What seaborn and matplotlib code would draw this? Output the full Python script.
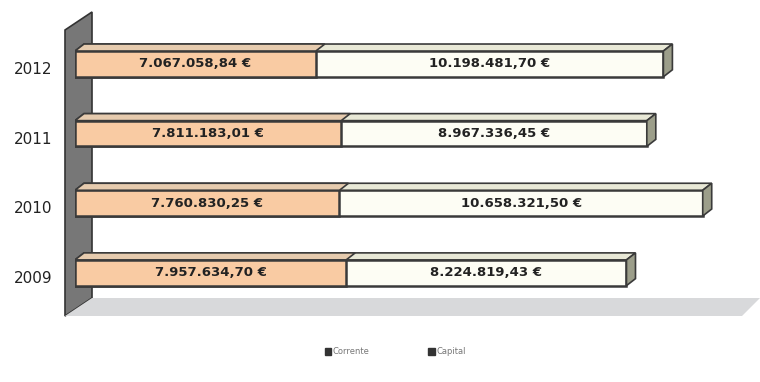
import pandas as pd
import numpy as np
import matplotlib.pyplot as plt
import seaborn as sns
from matplotlib.patches import Polygon, Patch
from matplotlib.transforms import IdentityTransform, ScaledTranslation

# data (euros)
years = ['2012', '2011', '2010', '2009']
corrente = [7067058.84, 7811183.01, 7760830.25, 7957634.70]
capital = [10198481.70, 8967336.45, 10658321.50, 8224819.43]
labels_corrente = ['7.067.058,84 €', '7.811.183,01 €', '7.760.830,25 €', '7.957.634,70 €']
labels_capital = ['10.198.481,70 €', '8.967.336,45 €', '10.658.321,50 €', '8.224.819,43 €']

df = pd.DataFrame({'Ano': years, 'Corrente': corrente, 'Capital': capital})
df['Total'] = df['Corrente'] + df['Capital']

sns.set_style('white')
fig = plt.figure(figsize=(7.6, 3.82), dpi=100)
H = 382
W = 760

# wall and floor (background)
wall = Polygon([[65 / W, 1 - 316 / H], [92 / W, 1 - 298 / H], [92 / W, 1 - 12 / H],
                [65 / W, 1 - 30 / H]], closed=True, transform=fig.transFigure,
               facecolor='#777777', edgecolor='#333333', linewidth=1.2, zorder=-2)
fig.patches.append(wall)
floor = Polygon([[65 / W, 1 - 316 / H], [742 / W, 1 - 316 / H], [760 / W, 1 - 298 / H],
                 [92 / W, 1 - 298 / H]], closed=True, transform=fig.transFigure,
                facecolor='#D8D9DB', edgecolor='none', zorder=-2)
fig.patches.append(floor)

ax = fig.add_axes([75 / W, 1 - 302 / H, 685 / W, 275 / H])
ax.patch.set_visible(False)

c_orange = '#F9CBA3'
c_white = '#FDFDF4'
edge = '#3A3A3A'

sns.barplot(data=df, y='Ano', x='Total', order=years, color=c_white, width=0.37,
            edgecolor=edge, linewidth=1.8, saturation=1, ax=ax)
sns.barplot(data=df, y='Ano', x='Corrente', order=years, color=c_orange, width=0.37,
            edgecolor=edge, linewidth=1.8, saturation=1, ax=ax)

ax.set_xlim(0, 20.1e6)
ax.set_ylim(3.42, -0.53)
ax.set_xlabel('')
ax.set_ylabel('')
ax.set_xticks([])
ax.tick_params(axis='y', length=0, pad=16, labelsize=11)
shift = ScaledTranslation(0, -3 / 72, fig.dpi_scale_trans)
for t in ax.get_yticklabels():
    t.set_transform(t.get_transform() + shift)
    t.set_color('#222222')
for s in ax.spines.values():
    s.set_visible(False)

# value labels
for i in range(len(years)):
    ax.text(df['Corrente'][i] / 2, i, labels_corrente[i], ha='center', va='center',
            fontsize=9.5, fontweight='bold', color='#222222')
    ax.text(df['Corrente'][i] + df['Capital'][i] / 2, i, labels_capital[i], ha='center',
            va='center', fontsize=9.5, fontweight='bold', color='#222222')

# 3D faces derived from bar patches
fig.canvas.draw()
dx, dy = 9, 7
n = len(years)
bars = ax.patches
for k, p in enumerate(bars):
    bb = p.get_window_extent()
    x0, x1, y0, y1 = bb.x0, bb.x1, bb.y0, bb.y1
    top_col = '#E6CBAE' if k >= n else '#E8E8D6'
    top = Polygon([[x0, y1], [x1, y1], [x1 + dx, y1 + dy], [x0 + dx, y1 + dy]],
                  closed=True, transform=IdentityTransform(), facecolor=top_col,
                  edgecolor=edge, linewidth=1.2, zorder=1.5)
    ax.add_artist(top)
    if k < n:
        side = Polygon([[x1, y0], [x1 + dx, y0 + dy], [x1 + dx, y1 + dy], [x1, y1]],
                       closed=True, transform=IdentityTransform(), facecolor='#9C9E8A',
                       edgecolor=edge, linewidth=1.2, zorder=1.5)
        ax.add_artist(side)

handles = [Patch(facecolor='#333333', edgecolor='#333333', label='Corrente'),
           Patch(facecolor='#333333', edgecolor='#333333', label='Capital')]
fig.legend(handles=handles, loc='center', bbox_to_anchor=(0.52, 1 - 352 / H), ncol=2,
           frameon=False, fontsize=6, handlelength=0.8, handleheight=0.8,
           columnspacing=7, handletextpad=0.2, labelcolor='#777777')

fig.savefig('out.png', dpi=100)
